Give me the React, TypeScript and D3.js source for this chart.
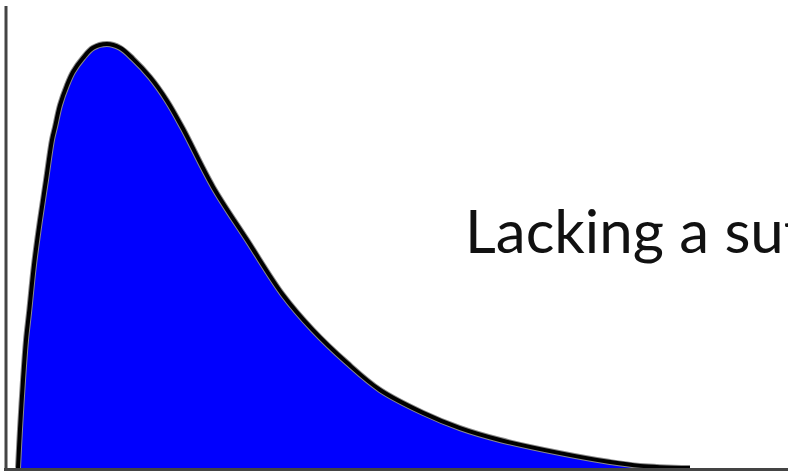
import React from "react";
import * as d3 from "d3";

const xValues = [0, 0.029, 0.074, 0.118, 0.162, 0.235, 0.324, 0.412, 0.5, 0.544, 0.618, 0.721, 0.809, 0.956, 1.103, 1.309, 1.5, 1.691, 1.941, 2.191, 2.426, 2.868, 3.368, 3.897, 4.338, 4.838, 5.324, 5.956, 6.5, 7.088, 7.971, 8.706, 9.147, 9.882];
const densityValues = [0, 0.09, 0.208, 0.302, 0.366, 0.479, 0.585, 0.679, 0.774, 0.804, 0.856, 0.903, 0.934, 0.967, 0.991, 1.0, 0.991, 0.965, 0.922, 0.866, 0.8, 0.663, 0.538, 0.408, 0.325, 0.248, 0.184, 0.13, 0.094, 0.066, 0.035, 0.014, 0.005, 0];
const labelText = "Lacking a sut";

const W = 788;
const H = 473;

export default function App() {
  const x = d3.scaleLinear().domain([0, 10]).range([18, 698]);
  const y = d3.scaleLinear().domain([0, 1]).range([468, 44]);
  const pts: [number, number][] = xValues.map((v, i) => [v, densityValues[i]]);
  const curve = d3.curveCatmullRom.alpha(0.5);
  const area = d3
    .area<[number, number]>()
    .x((d) => x(d[0]))
    .y0(y(0))
    .y1((d) => y(d[1]))
    .curve(curve);
  const line = d3
    .line<[number, number]>()
    .x((d) => x(d[0]))
    .y((d) => y(d[1]))
    .curve(curve);

  return (
    <svg
      width={W}
      height={H}
      style={{ position: "absolute", left: 0, top: 0, background: "#fff" }}
    >
      <path d={area(pts) || ""} fill="#0000ff" />
      <path d={line(pts) || ""} fill="none" stroke="#8a8a8a" strokeWidth={6} strokeLinejoin="round" />
      <path d={line(pts) || ""} fill="none" stroke="#000" strokeWidth={4} strokeLinejoin="round" />
      <line x1={6} x2={6} y1={6} y2={471} stroke="#444" strokeWidth={3} />
      <line x1={4} x2={W} y1={469.5} y2={469.5} stroke="#444" strokeWidth={3} />
      <text x={465} y={253} fontFamily="Lato" fontSize={60} fill="#111">
        {labelText}
      </text>
    </svg>
  );
}
